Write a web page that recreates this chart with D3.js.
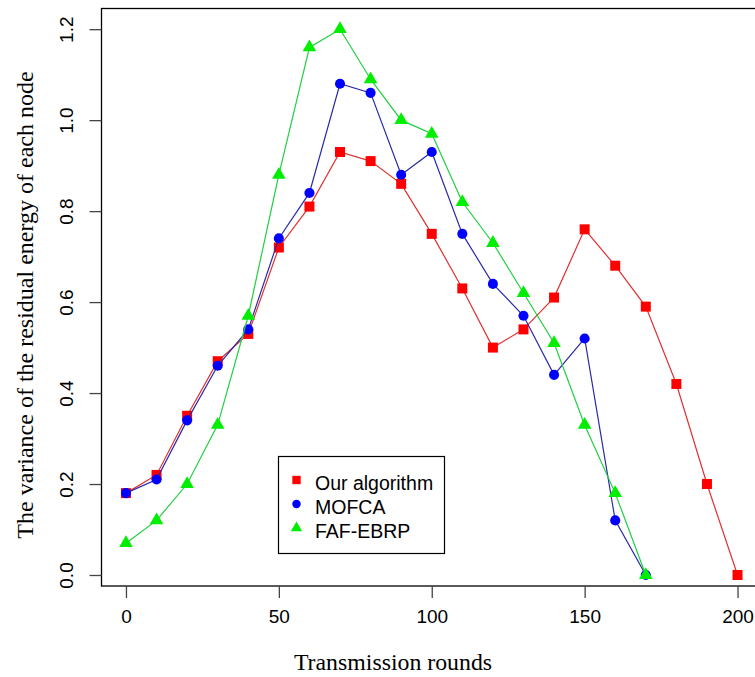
<!DOCTYPE html>
<html>
<head>
<meta charset="utf-8">
<script src="https://cdn.jsdelivr.net/npm/d3@7"></script>
<style>
  body { margin: 0; background: #fff; }
  svg { display: block; }
</style>
</head>
<body>
<div id="chart"></div>
<script>
// data
var rounds = [0, 10, 20, 30, 40, 50, 60, 70, 80, 90, 100, 110, 120, 130, 140, 150, 160, 170, 180, 190, 200];
var ourAlgorithm = [0.18, 0.22, 0.35, 0.47, 0.53, 0.72, 0.81, 0.93, 0.91, 0.86, 0.75, 0.63, 0.50, 0.54, 0.61, 0.76, 0.68, 0.59, 0.42, 0.20, 0.00];
var mofca = [0.18, 0.21, 0.34, 0.46, 0.54, 0.74, 0.84, 1.08, 1.06, 0.88, 0.93, 0.75, 0.64, 0.57, 0.44, 0.52, 0.12, 0.00];
var fafEbrp = [0.07, 0.12, 0.20, 0.33, 0.57, 0.88, 1.16, 1.20, 1.09, 1.00, 0.97, 0.82, 0.73, 0.62, 0.51, 0.33, 0.18, 0.00];
var xTicks = [0, 50, 100, 150, 200];
var yTicks = [0.0, 0.2, 0.4, 0.6, 0.8, 1.0, 1.2];
var seriesNames = ["Our algorithm", "MOFCA", "FAF-EBRP"];

var W = 755, H = 677;
var frame = {left: 101.5, top: 8.5, right: 762, bottom: 586};

var svg = d3.select("#chart").append("svg")
  .attr("width", W)
  .attr("height", H);

// scales (R style, 4% padding around the data)
var x = d3.scaleLinear().domain([-8, 208]).range([frame.left, frame.right]);
var y = d3.scaleLinear().domain([-0.0242, 1.2455]).range([frame.bottom, frame.top]);

var sans = "'Liberation Sans', Arial, sans-serif";
var serif = "'Liberation Serif', 'Times New Roman', serif";

// box round the plot
svg.append("rect")
  .attr("x", frame.left).attr("y", frame.top)
  .attr("width", frame.right - frame.left)
  .attr("height", frame.bottom - frame.top)
  .attr("fill", "none")
  .attr("stroke", "#000")
  .attr("stroke-width", 1.3);

// x axis
var xAxis = d3.axisBottom(x).tickValues(xTicks).tickSize(12).tickPadding(12)
  .tickFormat(d3.format("d"));
var gx = svg.append("g")
  .attr("transform", "translate(0," + frame.bottom + ")")
  .call(xAxis);
gx.select(".domain").remove();
gx.selectAll("line").attr("stroke", "#444").attr("stroke-width", 1.3);
gx.selectAll("text").attr("font-family", sans).attr("font-size", "19px").attr("fill", "#000");

// y axis, labels turned like R's las=0
var yAxis = d3.axisLeft(y).tickValues(yTicks).tickSize(12).tickFormat(d3.format(".1f"));
var gy = svg.append("g")
  .attr("transform", "translate(" + frame.left + ",0)")
  .call(yAxis);
gy.select(".domain").remove();
gy.selectAll("line").attr("stroke", "#444").attr("stroke-width", 1.3);
gy.selectAll("text")
  .attr("font-family", sans).attr("font-size", "19px").attr("fill", "#000")
  .attr("x", null).attr("dy", null)
  .attr("text-anchor", "middle")
  .attr("transform", "translate(-29,0) rotate(-90)");

// axis titles
svg.append("text")
  .attr("x", 393).attr("y", 670)
  .attr("text-anchor", "middle")
  .attr("font-family", serif).attr("font-size", "23.8px")
  .text("Transmission rounds");

svg.append("text")
  .attr("transform", "translate(33,305) rotate(-90)")
  .attr("text-anchor", "middle")
  .attr("font-family", serif).attr("font-size", "24px")
  .text("The variance of the residual energy of each node");

// series
var series = [
  {name: seriesNames[0], values: ourAlgorithm, color: "#ff0000", line: "#e03030", shape: d3.symbolSquare, size: 100},
  {name: seriesNames[1], values: mofca, color: "#0000ff", line: "#2a2aa8", shape: d3.symbolCircle, size: 80},
  {name: seriesNames[2], values: fafEbrp, color: "#00ee00", line: "#20d040", shape: d3.symbolTriangle, size: 80}
];

var line = d3.line()
  .x(function(d) { return x(d.r); })
  .y(function(d) { return y(d.v); });

series.forEach(function(s) {
  var pts = s.values.map(function(v, i) { return {r: rounds[i], v: v}; });
  svg.append("path")
    .datum(pts)
    .attr("d", line)
    .attr("fill", "none")
    .attr("stroke", s.line)
    .attr("stroke-width", 1.2);
  svg.selectAll(null)
    .data(pts)
    .enter().append("path")
    .attr("d", d3.symbol().type(s.shape).size(s.size))
    .attr("transform", function(d) { return "translate(" + x(d.r) + "," + y(d.v) + ")"; })
    .attr("fill", s.color);
});

// legend
var leg = svg.append("g");
leg.append("rect")
  .attr("x", 278.5).attr("y", 456.5)
  .attr("width", 166).attr("height", 97)
  .attr("fill", "#fff")
  .attr("stroke", "#000")
  .attr("stroke-width", 1.2);

series.forEach(function(s, i) {
  var cy = 480 + i * 24;
  leg.append("path")
    .attr("d", d3.symbol().type(s.shape).size(s.size * 0.7))
    .attr("transform", "translate(296.5," + cy + ")")
    .attr("fill", s.color);
  leg.append("text")
    .attr("x", 315).attr("y", cy + 9.5)
    .attr("font-family", sans).attr("font-size", "19.5px")
    .text(s.name);
});
</script>
</body>
</html>
